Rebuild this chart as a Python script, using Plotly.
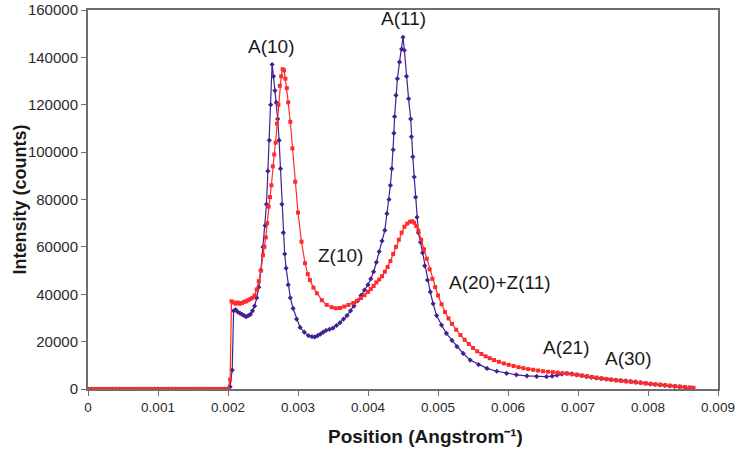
import plotly.graph_objects as go

# ---- data ----
zero_x = [0.0, 0.00005, 0.0001, 0.00015, 0.0002, 0.00025, 0.0003, 0.00035, 0.0004, 0.00045,
          0.0005, 0.00055, 0.0006, 0.00065, 0.0007, 0.00075, 0.0008, 0.00085, 0.0009, 0.00095,
          0.001, 0.00105, 0.0011, 0.00115, 0.0012, 0.00125, 0.0013, 0.00135, 0.0014, 0.00145,
          0.0015, 0.00155, 0.0016, 0.00165, 0.0017, 0.00175, 0.0018, 0.00185, 0.0019, 0.00195,
          0.002]
zero_y = [0, 0, 0, 0, 0, 0, 0, 0, 0, 0, 0, 0, 0, 0, 0, 0, 0, 0, 0, 0,
          0, 0, 0, 0, 0, 0, 0, 0, 0, 0, 0, 0, 0, 0, 0, 0, 0, 0, 0, 0, 0]

purple_x = [0.00203, 0.00206, 0.00208, 0.00211, 0.00214, 0.00217, 0.0022, 0.00223, 0.00226,
            0.00229, 0.00232, 0.00235, 0.00238, 0.00241, 0.00244, 0.00247, 0.0025, 0.00253,
            0.00255, 0.00257, 0.00259, 0.00261, 0.00263, 0.00265, 0.00267, 0.00269, 0.00271,
            0.00273, 0.00275, 0.00277, 0.00279, 0.00281, 0.00283, 0.00286, 0.00289, 0.00293,
            0.00298, 0.00303, 0.00309, 0.00315, 0.0032, 0.00324, 0.00328, 0.00332, 0.00336,
            0.0034, 0.00345, 0.0035, 0.00355, 0.0036, 0.00365, 0.0037, 0.00375, 0.0038,
            0.00385, 0.0039, 0.00395, 0.004, 0.00404, 0.00408, 0.00412, 0.00416, 0.0042,
            0.00424, 0.00427, 0.0043, 0.00432, 0.00434, 0.00436, 0.00437, 0.00438, 0.0044,
            0.00442, 0.00445, 0.00448, 0.0045, 0.00452, 0.00455, 0.00458, 0.00461, 0.00462,
            0.00464, 0.00466, 0.00468, 0.0047, 0.00472, 0.00475, 0.00478, 0.00481, 0.00485,
            0.00489, 0.00493, 0.00498, 0.00505, 0.00512, 0.0052, 0.00527, 0.00536, 0.00546,
            0.00558, 0.0057, 0.00584, 0.00598, 0.00612, 0.00627, 0.00641, 0.00655, 0.00663,
            0.0067, 0.00677, 0.00684, 0.00691, 0.00698, 0.00705, 0.00712, 0.00719, 0.00726,
            0.00733, 0.0074, 0.00747, 0.00754, 0.00761, 0.00768, 0.00775, 0.00782, 0.00789,
            0.00796, 0.00803, 0.0081, 0.00817, 0.00824, 0.00831, 0.00838, 0.00845, 0.00852,
            0.00859]
purple_y = [1000, 8000, 33000, 33500, 32500, 32000, 31500, 31000, 30500,
            31000, 31500, 33000, 35000, 38500, 43000, 50000, 60000, 69000,
            78000, 92000, 105000, 120000, 137000, 132000, 126000, 121000, 114000,
            105000, 93000, 78000, 66000, 57000, 51000, 44000, 38500, 34000,
            29500, 26000, 24000, 22500, 22100, 22000, 22500, 23200, 24000,
            24700, 25200, 25700, 26800, 28000, 29500, 31000, 33000, 35000,
            37200, 39500, 41800, 44000, 46500, 49500, 53500, 58000, 62500,
            67000, 74000, 80000, 86000, 93000, 101000, 108000, 115000, 124000,
            131000, 138000, 143500, 148500, 143000, 132000, 122500, 114000, 106500,
            98000, 89500, 81000, 72500, 66000, 62000, 57500, 52000, 46000,
            41000, 36000, 31000, 27000, 23500, 20500, 17900, 15000, 12200,
            10300, 8700, 7500, 6600, 6000, 5500, 5300, 5200, 5400,
            5800, 6300, 6600, 6400, 6000, 5600, 5200, 4900, 4600,
            4400, 4200, 4000, 3800, 3600, 3400, 3200, 3000, 2700,
            2400, 2100, 1900, 1700, 1500, 1300, 1100, 900, 700,
            500]

red_x = [0.00203, 0.00205, 0.00208, 0.00211, 0.00214, 0.00217, 0.0022, 0.00223, 0.00226,
         0.00229, 0.00232, 0.00235, 0.00238, 0.00241, 0.00244, 0.00247, 0.0025, 0.00252,
         0.00254, 0.00256, 0.00258, 0.0026, 0.00262, 0.00264, 0.00266, 0.00268, 0.0027,
         0.00272, 0.00274, 0.00276, 0.00278, 0.0028, 0.00282, 0.00284, 0.00286, 0.00289,
         0.00292, 0.00296, 0.003, 0.00305, 0.0031, 0.00314, 0.00317, 0.00322, 0.00327,
         0.00334, 0.00341, 0.00348, 0.00354, 0.0036, 0.00366, 0.00372, 0.00379, 0.00384,
         0.0039, 0.00395, 0.004, 0.00404, 0.00408, 0.00412, 0.00416, 0.0042, 0.00424,
         0.00428, 0.00432, 0.00436, 0.0044, 0.00444, 0.00448, 0.00452, 0.00456, 0.0046,
         0.00463, 0.00466, 0.00469, 0.00472, 0.00476, 0.0048, 0.00484, 0.00488, 0.00492,
         0.00496, 0.005, 0.00505, 0.0051, 0.00515, 0.0052, 0.00526, 0.00532, 0.00538,
         0.00544, 0.0055, 0.00556, 0.00562, 0.00568, 0.00574, 0.0058, 0.00587, 0.00594,
         0.00601, 0.00608, 0.00615, 0.00622, 0.00629, 0.00636, 0.00643, 0.0065, 0.00657,
         0.00664, 0.00671, 0.00678, 0.00685, 0.00692, 0.00699, 0.00706, 0.00713, 0.0072,
         0.00727, 0.00734, 0.00741, 0.00748, 0.00755, 0.00762, 0.00769, 0.00776, 0.00783,
         0.0079, 0.00797, 0.00804, 0.00811, 0.00818, 0.00825, 0.00832, 0.00839, 0.00846,
         0.00853, 0.0086, 0.00865]
red_y = [4000, 37000, 36500, 36000, 36500, 36000, 36300, 36800, 37000,
         37500, 38000, 38500, 39500, 42000, 45500, 50000, 56500, 60000,
         64000, 70000, 77000, 81000, 86000, 94000, 99000, 104000, 112000,
         120000, 128000, 132000, 135000, 134500, 131000, 127000, 121000, 112800,
         101600, 87500, 74500, 62200, 53100, 48500, 46000, 42800, 40400,
         37500, 35500, 34500, 34100, 34200, 34800, 35500, 36300, 37200,
         38400, 39600, 41000, 42200, 43500, 45000, 46200, 47600, 49500,
         51500, 54000, 57000, 60000, 63000, 66000, 68500, 69800, 70600,
         70800, 70200, 68800, 66800, 63000, 59000, 55000, 50500, 46500,
         43000, 39500, 35800, 32500, 29800, 27500, 25000, 22800, 20800,
         19000, 17300, 15900, 14800, 13800, 13000, 12200, 11500, 10800,
         10200, 9700, 9200, 8800, 8400, 8100, 7800, 7500, 7300,
         7100, 6900, 6700, 6500, 6200, 6000, 5700, 5400, 5100,
         4800, 4500, 4200, 3900, 3600, 3400, 3200, 3000, 2800,
         2600, 2400, 2200, 2000, 1800, 1600, 1400, 1200, 1000,
         800, 600, 500]

x_ticks = [0, 0.001, 0.002, 0.003, 0.004, 0.005, 0.006, 0.007, 0.008, 0.009]
x_tick_labels = ["0", "0.001", "0.002", "0.003", "0.004", "0.005", "0.006", "0.007", "0.008", "0.009"]
y_ticks = [0, 20000, 40000, 60000, 80000, 100000, 120000, 140000, 160000]
y_tick_labels = ["0", "20000", "40000", "60000", "80000", "100000", "120000", "140000", "160000"]

peak_labels = ["A(10)", "A(11)", "Z(10)", "A(20)+Z(11)", "A(21)", "A(30)"]
peak_label_x = [0.002614, 0.0045, 0.003614, 0.005886, 0.00683, 0.007714]
peak_label_y = [144400, 156600, 56200, 44800, 17700, 12700]

x_title = "<b>Position (Angstrom⁻¹)</b>"
y_title = "<b>Intensity (counts)</b>"

PURPLE = "#43218f"
RED = "#ff2b2b"
FONT = "Liberation Sans, Arial, sans-serif"

fig = go.Figure()
fig.add_trace(go.Scatter(
    x=zero_x + purple_x, y=zero_y + purple_y, mode="lines+markers",
    line=dict(color=PURPLE, width=1.2),
    marker=dict(symbol="diamond", size=4, color=PURPLE),
    showlegend=False, hoverinfo="skip"))
fig.add_trace(go.Scatter(
    x=zero_x + red_x, y=zero_y + red_y, mode="lines+markers",
    line=dict(color=RED, width=1.2),
    marker=dict(symbol="square", size=4, color=RED),
    showlegend=False, hoverinfo="skip"))

for t, ax, ay in zip(peak_labels, peak_label_x, peak_label_y):
    fig.add_annotation(x=ax, y=ay, xref="x", yref="y", text=t, showarrow=False,
                       font=dict(family=FONT, size=19, color="#1a1a1a"))

# axis titles as free text
fig.add_annotation(x=0.5365, y=-0.1266, xref="paper", yref="paper", text=x_title,
                   showarrow=False, xanchor="center", yanchor="middle",
                   font=dict(family=FONT, size=19, color="#1a1a1a"))
fig.add_annotation(x=-0.108, y=0.5, xref="paper", yref="paper", text=y_title,
                   showarrow=False, textangle=-90, xanchor="center", yanchor="middle",
                   font=dict(family=FONT, size=18, color="#1a1a1a"))

axis_common = dict(showline=True, linecolor="#6e6e6e", linewidth=2, mirror=True,
                   ticks="outside", ticklen=5, tickcolor="#6e6e6e", tickwidth=1,
                   showgrid=False, zeroline=False, automargin=False)

fig.update_xaxes(range=[0, 0.009], tickvals=x_ticks, ticktext=x_tick_labels,
                 tickfont=dict(family=FONT, size=13.5, color="#2a2a2a"),
                 **axis_common)
fig.update_yaxes(range=[0, 160000], tickvals=y_ticks, ticktext=y_tick_labels,
                 tickfont=dict(family=FONT, size=15, color="#2a2a2a"),
                 **axis_common)

fig.update_layout(width=743, height=453,
                  margin=dict(l=88, r=25, t=10, b=64),
                  paper_bgcolor="white", plot_bgcolor="white")

# remove the page's default body margin so the figure sits at the window's corner
fig.write_html("out.html", config={"displayModeBar": False},
               post_script="document.body.style.margin='0px';")
